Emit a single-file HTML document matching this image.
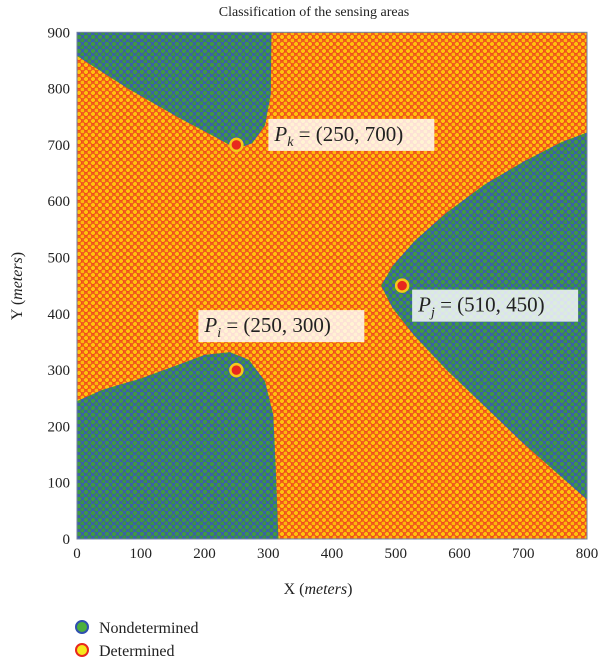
<!DOCTYPE html>
<html><head><meta charset="utf-8"><style>
body{margin:0;background:#fff;width:600px;height:662px;overflow:hidden}
svg text{font-family:"Liberation Serif",serif}
</style></head><body>
<svg id="c" width="600" height="662">
<defs>
<pattern id="po" width="7" height="7" patternUnits="userSpaceOnUse">
<rect width="7" height="7" fill="#f0601c"/>
<circle cx="2" cy="2" r="2.4" fill="#ffc20e" stroke="#f0401a" stroke-width="0.7"/>
<circle cx="5.5" cy="5.5" r="2.4" fill="#fdb80c" stroke="#f0401a" stroke-width="0.7"/>
</pattern>
<pattern id="pg" width="7" height="7" patternUnits="userSpaceOnUse">
<rect width="7" height="7" fill="#3a62a8"/>
<circle cx="2" cy="2" r="2.6" fill="#3f9a40" stroke="#3e5aa8" stroke-width="0.8"/>
<circle cx="5.5" cy="5.5" r="2.6" fill="#3a9444" stroke="#3e5aa8" stroke-width="0.8"/>
</pattern>
</defs>
<text x="314" y="16" font-size="14" text-anchor="middle" fill="#222">Classification of the sensing areas</text>
<g id="plot"></g>
<g id="axes"></g>
<text x="318" y="594" font-size="16" text-anchor="middle" fill="#222">X (<tspan font-style="italic">meters</tspan>)</text>
<text transform="translate(22,286) rotate(-90)" font-size="16" text-anchor="middle" fill="#222">Y (<tspan font-style="italic">meters</tspan>)</text>
<g>
<circle cx="82" cy="627" r="6" fill="#4caf3c" stroke="#3050b0" stroke-width="2"/>
<text x="99" y="633" font-size="16" fill="#222">Nondetermined</text>
<circle cx="82" cy="650" r="6" fill="#f5e81c" stroke="#e8281e" stroke-width="2"/>
<text x="99" y="656" font-size="16" fill="#222">Determined</text>
</g>
</svg>
<script>
const xTicks=[0,100,200,300,400,500,600,700,800];
const yTicks=[0,100,200,300,400,500,600,700,800,900];
const pointNames=["k","i","j"];
const pointX=[250,250,510];
const pointY=[700,300,450];
const regionTopLeft=[[0,900],[0,858],[80,800],[160,748],[220,712],[250,693],[275,703],[295,735],[304,790],[305,900]];
const regionBottomLeft=[[0,0],[0,245],[40,265],[100,285],[160,310],[200,327],[240,332],[270,318],[295,280],[308,220],[312,120],[316,0]];
const regionRight=[[800,722],[760,705],[700,670],[640,630],[580,580],[530,530],[495,485],[477,450],[495,410],[530,360],[580,300],[640,235],[700,170],[760,110],[800,70]];
const X=v=>77+v*0.6375, Y=v=>539-v*0.563;
const ns="http://www.w3.org/2000/svg";
const plot=document.getElementById('plot'), axes=document.getElementById('axes');
function mk(t,a,p){const e=document.createElementNS(ns,t);for(const k in a)e.setAttribute(k,a[k]);p.appendChild(e);return e;}
const bg=mk('rect',{x:X(0),y:Y(900),width:X(800)-X(0),height:Y(0)-Y(900),fill:'url(#po)'},plot);


[[regionTopLeft,'nondetermined-area-top-left'],[regionBottomLeft,'nondetermined-area-bottom-left'],[regionRight,'nondetermined-area-right']].forEach(([r,n])=>{
 const p=mk('polygon',{points:r.map(q=>X(q[0])+','+Y(q[1])).join(' '),fill:'url(#pg)'},plot);
 
 
});
const fr=mk('rect',{x:X(0),y:Y(900),width:X(800)-X(0),height:Y(0)-Y(900),fill:'none',stroke:'#7080a0','stroke-width':1},axes);


xTicks.forEach(v=>{const t=mk('text',{x:X(v),y:558,'font-size':15,'text-anchor':'middle',fill:'#222'},axes);t.textContent=v;
 
 });
yTicks.forEach(v=>{const t=mk('text',{x:70,y:Y(v)+5,'font-size':15,'text-anchor':'end',fill:'#222'},axes);t.textContent=v;
 
 });
const labelOff=[[38,-13,166],[-32,-47,166],[16,17,166]];
pointNames.forEach((n,i)=>{
 const cx=X(pointX[i]),cy=Y(pointY[i]);
 const c=mk('circle',{cx:cx,cy:cy,r:6,fill:'#e8281e',stroke:'#f5c81c','stroke-width':2.5},plot);
 
 
 const o=labelOff[i];
 const g=mk('g',{},plot);
 
 
 mk('rect',{x:cx+o[0]-6,y:cy+o[1]-13,width:o[2],height:32,fill:'#fff','fill-opacity':0.82},g);
 const t=mk('text',{x:cx+o[0],y:cy+o[1]+9,'font-size':21,fill:'#222'},g);
 t.innerHTML='<tspan font-style="italic">P</tspan><tspan font-style="italic" font-size="14" dy="5">'+n+'</tspan><tspan dy="-5"> = ('+pointX[i]+', '+pointY[i]+')</tspan>';
});
</script>
</body></html>
